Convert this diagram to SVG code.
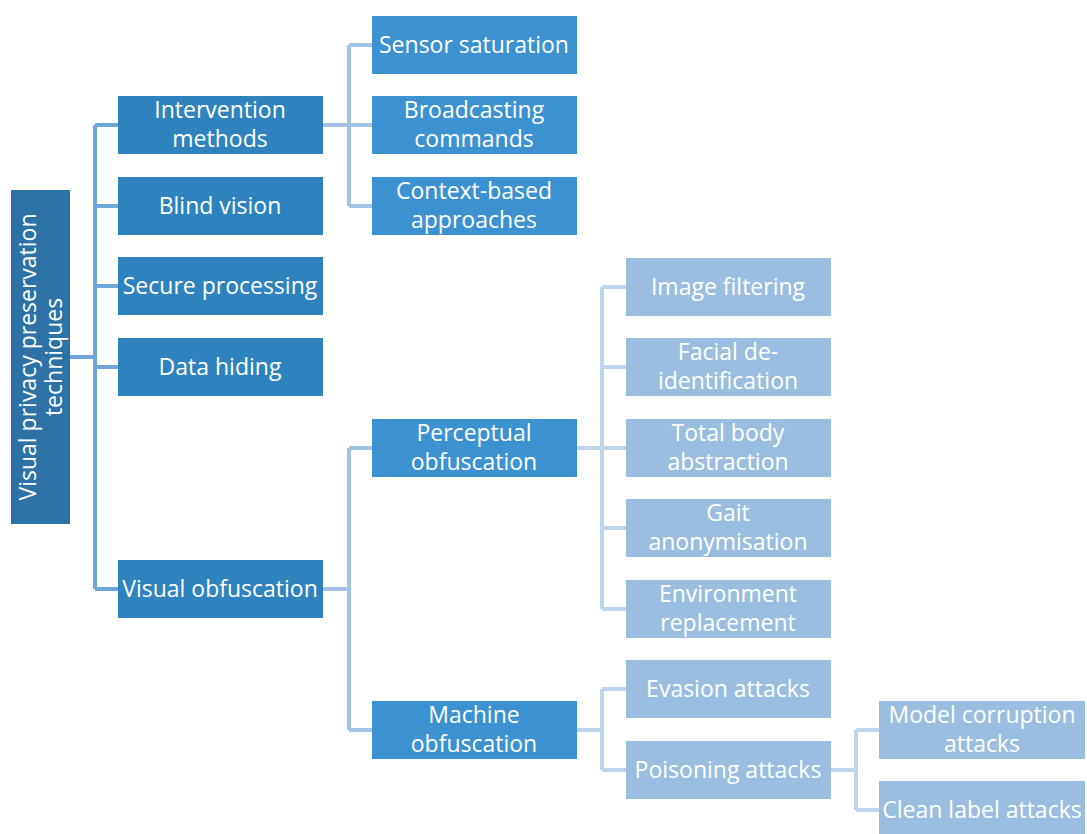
<svg xmlns="http://www.w3.org/2000/svg" width="1087" height="834" viewBox="0 0 1087 834">
<style>
text{font-family:"Open Sans",Lato,"Liberation Sans",sans-serif;font-size:23px;fill:#ffffff;text-anchor:middle}
.r{fill:#2c72a6}
.a{fill:#2e83bf}
.b{fill:#3c92d0}
.c{fill:#9bbde0}
.c0{fill:none;stroke:#6ea6d7;stroke-width:4}
.c1{fill:none;stroke:#a0c3e4;stroke-width:4}
.c2{fill:none;stroke:#bdd4ec;stroke-width:4}
</style>
<rect width="1087" height="834" fill="#ffffff"/>
<g id="connectors">
<path class="c0" d="M70 357H95M95 125V589M95 125H118M95 206H118M95 286H118M95 367H118M95 589H118"/>
<path class="c1" d="M323 125H349M349 45V206M349 45H372M349 125H372M349 206H372"/>
<path class="c1" d="M323 589H349M349 448V730M349 448H372M349 730H372"/>
<path class="c2" d="M577 448H602M602 287V609M602 287H626M602 367H626M602 448H626M602 528H626M602 609H626"/>
<path class="c2" d="M577 730H602M602 689V770M602 689H626M602 770H626"/>
<path class="c2" d="M831 770H856M856 730V810M856 730H879M856 810H879"/>
</g>
<g id="root"><rect class="r" x="11" y="190" width="59" height="334"/><text transform="translate(40 357) rotate(-90)"><tspan x="0" y="-4">Visual privacy preservation</tspan><tspan x="0" y="22">techniques</tspan></text></g>
<g id="intervention"><rect class="a" x="118" y="96" width="205" height="58"/><text x="220" y="118">Intervention</text><text x="220" y="147">methods</text></g>
<g id="blind"><rect class="a" x="118" y="177" width="205" height="58"/><text x="220" y="214">Blind vision</text></g>
<g id="secure"><rect class="a" x="118" y="257" width="205" height="58"/><text x="220" y="294">Secure processing</text></g>
<g id="datahiding"><rect class="a" x="118" y="338" width="205" height="58"/><text x="220" y="375">Data hiding</text></g>
<g id="visualobf"><rect class="a" x="118" y="560" width="205" height="58"/><text x="220" y="597">Visual obfuscation</text></g>
<g id="sensor"><rect class="b" x="372" y="16" width="205" height="58"/><text x="474" y="53">Sensor saturation</text></g>
<g id="broadcast"><rect class="b" x="372" y="96" width="205" height="58"/><text x="474" y="118">Broadcasting</text><text x="474" y="147">commands</text></g>
<g id="context"><rect class="b" x="372" y="177" width="205" height="58"/><text x="474" y="199">Context-based</text><text x="474" y="228">approaches</text></g>
<g id="perceptual"><rect class="b" x="372" y="419" width="205" height="58"/><text x="474" y="441">Perceptual</text><text x="474" y="470">obfuscation</text></g>
<g id="machine"><rect class="b" x="372" y="701" width="205" height="58"/><text x="474" y="723">Machine</text><text x="474" y="752">obfuscation</text></g>
<g id="imagefilter"><rect class="c" x="626" y="258" width="205" height="58"/><text x="728" y="295">Image filtering</text></g>
<g id="facial"><rect class="c" x="626" y="338" width="205" height="58"/><text x="728" y="360">Facial de-</text><text x="728" y="389">identification</text></g>
<g id="totalbody"><rect class="c" x="626" y="419" width="205" height="58"/><text x="728" y="441">Total body</text><text x="728" y="470">abstraction</text></g>
<g id="gait"><rect class="c" x="626" y="499" width="205" height="58"/><text x="728" y="521">Gait</text><text x="728" y="550">anonymisation</text></g>
<g id="environment"><rect class="c" x="626" y="580" width="205" height="58"/><text x="728" y="602">Environment</text><text x="728" y="631">replacement</text></g>
<g id="evasion"><rect class="c" x="626" y="660" width="205" height="58"/><text x="728" y="697">Evasion attacks</text></g>
<g id="poisoning"><rect class="c" x="626" y="741" width="205" height="58"/><text x="728" y="778">Poisoning attacks</text></g>
<g id="modelcorruption"><rect class="c" x="879" y="701" width="206" height="58"/><text x="982" y="723">Model corruption</text><text x="982" y="752">attacks</text></g>
<g id="cleanlabel"><rect class="c" x="879" y="781" width="206" height="58"/><text x="982" y="818">Clean label attacks</text></g>
</svg>
